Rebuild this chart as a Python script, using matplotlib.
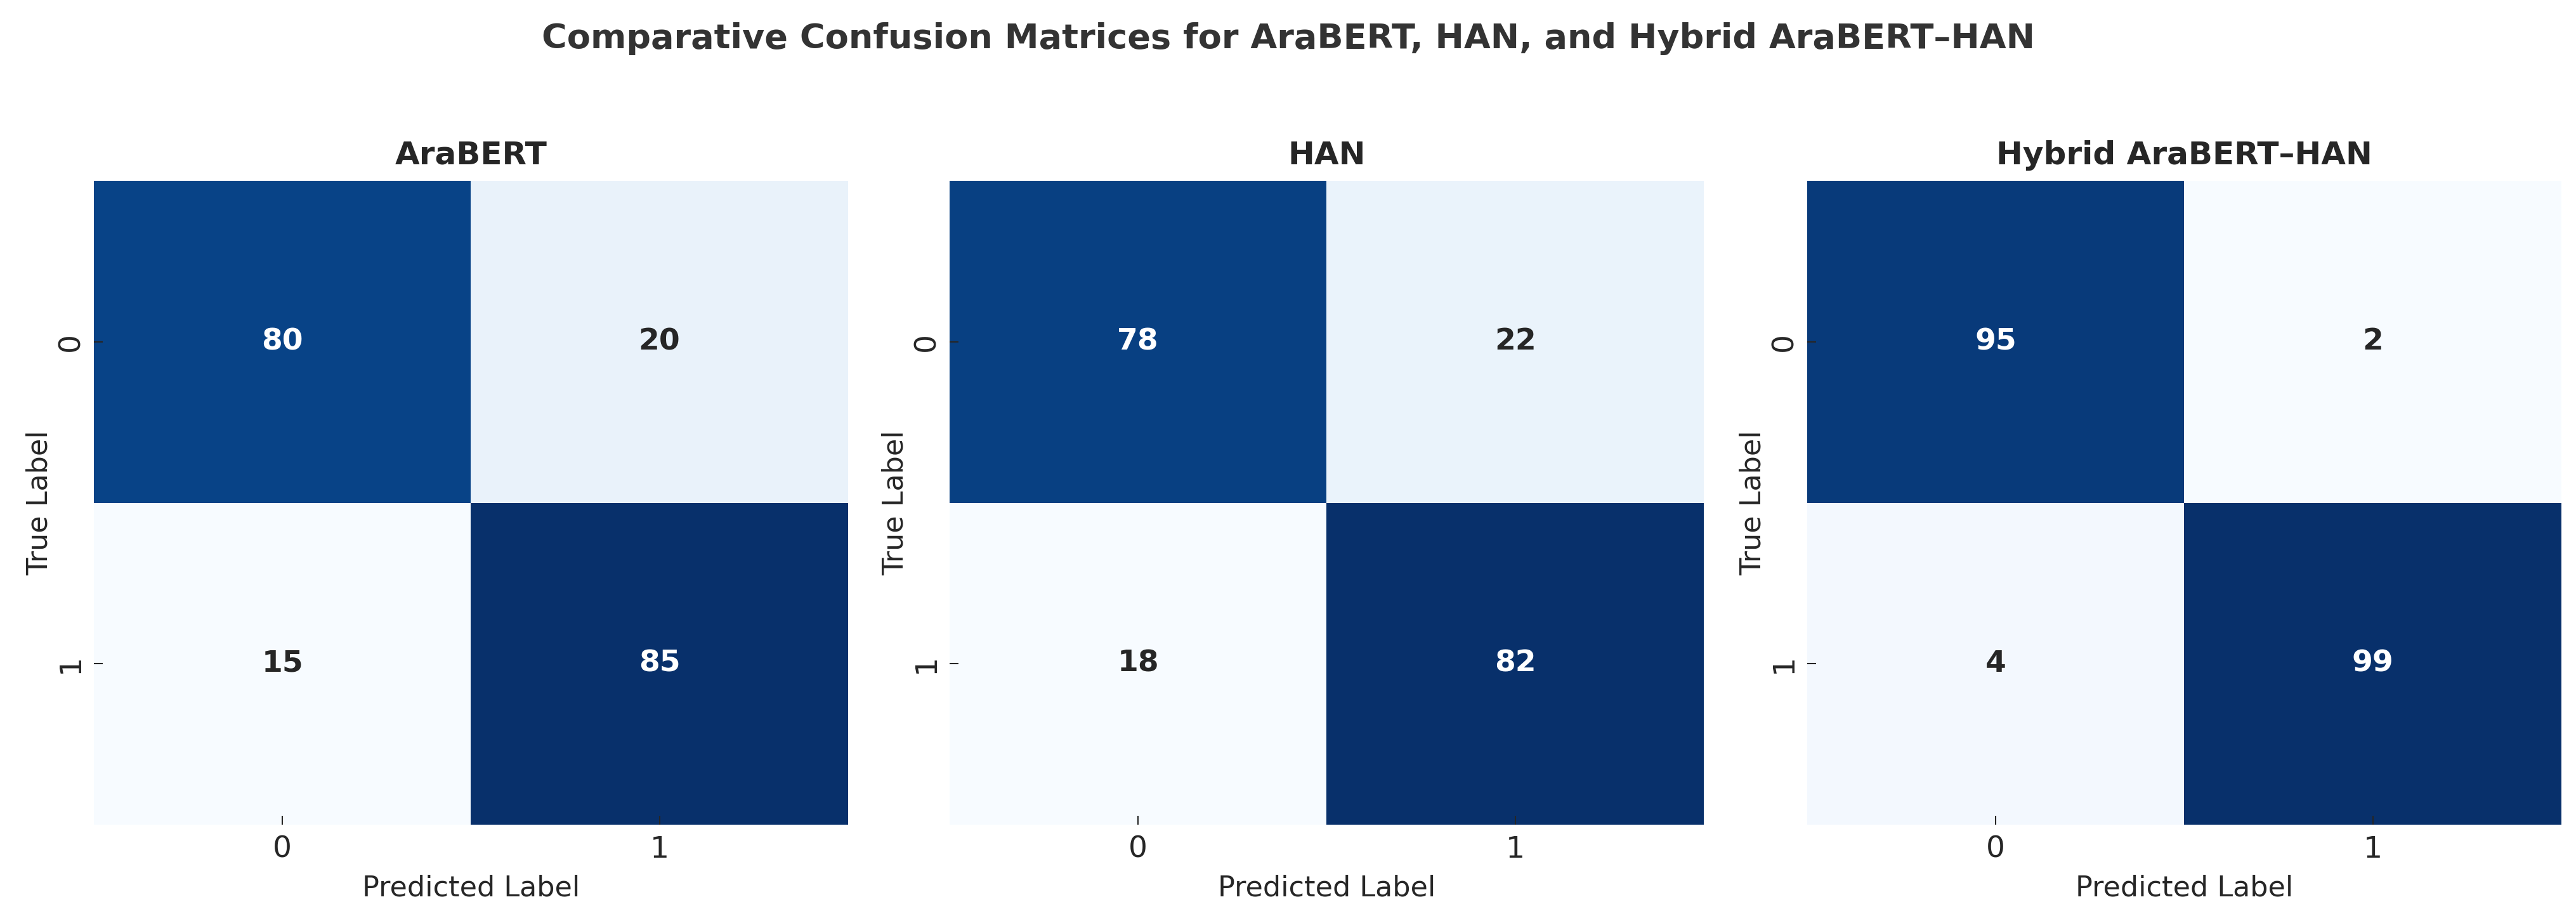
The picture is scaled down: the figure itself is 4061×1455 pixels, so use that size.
import numpy as np
import matplotlib
matplotlib.use("Agg")
import matplotlib.pyplot as plt
import seaborn as sns

#confusion matrix values
MODELS = ["AraBERT", "HAN", "Hybrid AraBERT\u2013HAN"]
ARABERT_CM = [[80, 20], [15, 85]]
HAN_CM = [[78, 22], [18, 82]]
HYBRID_CM = [[95, 2], [4, 99]]
CLASS_LABELS = ["0", "1"]

TEXT = "#262626"
plt.rcParams["font.family"] = ["DejaVu Sans"]

fig = plt.figure(figsize=(40.61, 14.55), dpi=100)

#axes placed by hand to follow the reference layout
lefts = [0.0364, 0.3686, 0.7015]
width, bottom, height = 0.2928, 0.1065, 0.6976

for left, name, cm in zip(lefts, MODELS, [ARABERT_CM, HAN_CM, HYBRID_CM]):
    ax = fig.add_axes([left, bottom, width, height])
    sns.heatmap(np.array(cm), annot=True, fmt="d", cmap="Blues", cbar=False,
                xticklabels=CLASS_LABELS, yticklabels=CLASS_LABELS, ax=ax,
                annot_kws={"size": 34, "weight": "bold"})
    ax.set_title(name, fontsize=36, fontweight="bold", color=TEXT, pad=19)
    ax.set_xlabel("Predicted Label", fontsize=32, color=TEXT, labelpad=12)
    ax.set_ylabel("True Label", fontsize=32, color=TEXT, labelpad=4)
    ax.tick_params(axis="both", direction="in", length=10, width=1.5,
                   colors=TEXT, labelsize=34)
    ax.tick_params(axis="x", pad=12)
    ax.tick_params(axis="y", pad=10)
    plt.setp(ax.get_yticklabels(), rotation=90, va="center")
    plt.setp(ax.get_xticklabels(), rotation=0)

fig.suptitle("Comparative Confusion Matrices for AraBERT, HAN, and Hybrid AraBERT\u2013HAN",
             fontsize=39, fontweight="bold", color="#333333", y=0.948, va="baseline")

fig.savefig("out.png", dpi=100, facecolor="white")
